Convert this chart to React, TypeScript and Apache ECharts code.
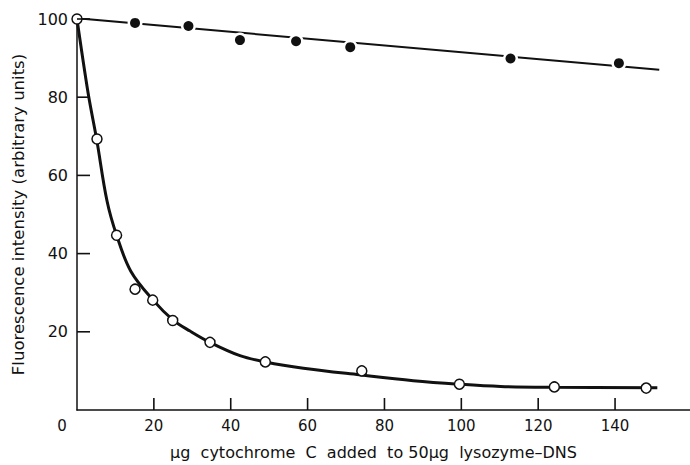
import React, { useEffect, useRef } from "react";
import * as echarts from "echarts";

// Filled circles (upper series)
const filledX = [15.1, 29.0, 42.4, 57.0, 71.1, 112.8, 141.0];
const filledY = [99.0, 98.2, 94.6, 94.3, 92.8, 89.9, 88.7];
// Straight fitted line through filled points (end points)
const lineX = [0, 151.5];
const lineY = [100.2, 87.0];

// Open circles (lower series)
const openX = [0, 5.2, 10.3, 15.1, 19.7, 24.9, 34.6, 49.0, 74.1, 99.5, 124.2, 148.1];
const openY = [100, 69.3, 44.7, 30.9, 28.1, 22.9, 17.3, 12.3, 10.0, 6.6, 5.9, 5.6];
// Hand-drawn curve through open circles
const curveX = [0, 2.9, 5.1, 7.8, 10.3, 14, 19.8, 25, 29.4, 34.6, 42.4, 49, 58.9, 73.5, 87.5, 99.3, 110.2, 124, 151];
const curveY = [100, 81, 69.3, 53.5, 44.7, 35.5, 28.1, 23, 20.2, 17.3, 13.9, 12.3, 10.7, 9.0, 7.5, 6.6, 6.0, 5.8, 5.7];

const xTicks = [0, 20, 40, 60, 80, 100, 120, 140];
const yTicks = [0, 20, 40, 60, 80, 100];

const xName = "\u03bcg  cytochrome  C  added  to 50\u03bcg  lysozyme\u2013DNS";
const yName = "Fluorescence intensity (arbitrary units)";

const zip = (a: number[], b: number[]) => a.map((v, i) => [v, b[i]]);

const X_MAX = 159.5;

export default function App() {
  const ref = useRef<HTMLDivElement>(null);
  useEffect(() => {
    if (!ref.current) return;
    const chart = echarts.init(ref.current, null, { renderer: "svg" });
    const font = "DejaVu Sans";
    const ink = "#111";
    const tickData = [
      ...xTicks.filter((v) => v > 0).map((v) => [v, 0, 0]),
      ...yTicks.filter((v) => v > 0).map((v) => [0, v, 1]),
    ];
    chart.setOption({
      animation: false,
      backgroundColor: "#fff",
      grid: { left: 77, right: 0, top: 19, bottom: 54, containLabel: false },
      xAxis: {
        type: "value",
        min: 0,
        max: X_MAX,
        interval: 20,
        splitLine: { show: false },
        axisLine: { show: true, onZero: false, lineStyle: { color: ink, width: 1.5 } },
        axisTick: { show: false },
        axisLabel: {
          show: true,
          color: ink,
          fontFamily: font,
          fontSize: 15,
          margin: 8,
          showMaxLabel: false,
          formatter: (v: number) => (xTicks.includes(v) ? (v === 0 ? "{z|0}" : String(v)) : ""),
          rich: { z: { padding: [0, 30, 0, 0], fontFamily: font, fontSize: 15, color: ink } },
        },
        name: xName,
        nameLocation: "middle",
        nameGap: 34,
        nameTextStyle: { color: ink, fontFamily: font, fontSize: 16, padding: [0, 20, 0, 0] },
      },
      yAxis: {
        type: "value",
        min: 0,
        max: 100,
        interval: 20,
        splitLine: { show: false },
        axisLine: { show: true, onZero: false, lineStyle: { color: ink, width: 1.5 } },
        axisTick: { show: false },
        axisLabel: {
          show: true,
          color: ink,
          fontFamily: font,
          fontSize: 16,
          margin: 9,
          formatter: (v: number) => (v === 0 || !yTicks.includes(v) ? "" : String(v)),
        },
        name: yName,
        nameLocation: "middle",
        nameGap: 50,
        nameTextStyle: { color: ink, fontFamily: font, fontSize: 16.5 },
      },
      series: [
        {
          // inward tick marks on both axes
          type: "custom",
          dimensions: ["x", "y", "kind"],
          data: tickData,
          encode: { x: 0, y: 1 },
          clip: false,
          silent: true,
          z: 6,
          renderItem: (_params: any, api: any) => {
            const p = api.coord([api.value(0), api.value(1)]);
            const isX = api.value(2) === 0;
            return {
              type: "line",
              shape: isX
                ? { x1: p[0], y1: p[1], x2: p[0], y2: p[1] - 12 }
                : { x1: p[0], y1: p[1], x2: p[0] + 13, y2: p[1] },
              style: { stroke: ink, lineWidth: 1.6 },
            };
          },
        },
        {
          type: "line",
          data: zip(lineX, lineY),
          symbol: "none",
          lineStyle: { color: ink, width: 2 },
          z: 2,
        },
        {
          type: "scatter",
          data: zip(filledX, filledY),
          symbol: "circle",
          symbolSize: 15,
          itemStyle: { color: "#fff", opacity: 1 },
          z: 3,
        },
        {
          type: "scatter",
          data: zip(filledX, filledY),
          symbol: "circle",
          symbolSize: 10,
          itemStyle: { color: ink, opacity: 1 },
          z: 4,
        },
        {
          type: "line",
          data: zip(curveX, curveY),
          symbol: "none",
          smooth: 0.35,
          lineStyle: { color: ink, width: 3 },
          z: 2,
        },
        {
          type: "scatter",
          data: zip(openX, openY),
          symbol: "circle",
          symbolSize: 10,
          itemStyle: { color: "#fff", borderColor: ink, borderWidth: 1.5, opacity: 1 },
          z: 5,
        },
      ],
    });
    return () => chart.dispose();
  }, []);
  return (
    <div
      ref={ref}
      style={{ position: "fixed", left: 0, top: 0, width: 690, height: 465, background: "#fff" }}
    />
  );
}
